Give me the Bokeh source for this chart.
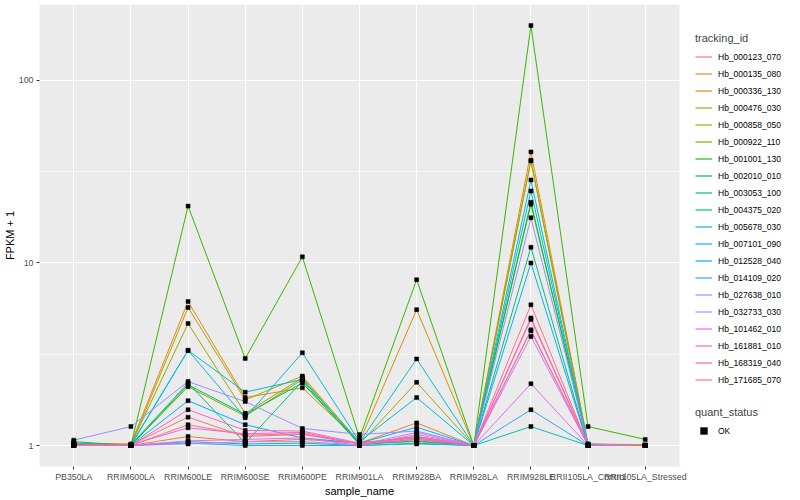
import math
from bokeh.plotting import figure
from bokeh.models import (Range1d, FactorRange, FixedTicker, NumeralTickFormatter,
                          Legend, LegendItem, ColumnDataSource)
from bokeh.layouts import row
from bokeh.embed import file_html
from bokeh.resources import INLINE

FONT = "Liberation Sans"

samples = ["PB350LA", "RRIM600LA", "RRIM600LE", "RRIM600SE", "RRIM600PE", "RRIM901LA",
           "RRIM928BA", "RRIM928LA", "RRIM928LE", "RRII105LA_Control", "RRII105LA_Stressed"]

genes = ["Hb_000123_070", "Hb_000135_080", "Hb_000336_130", "Hb_000476_030", "Hb_000858_050",
         "Hb_000922_110", "Hb_001001_130", "Hb_002010_010", "Hb_003053_100", "Hb_004375_020",
         "Hb_005678_030", "Hb_007101_090", "Hb_012528_040", "Hb_014109_020", "Hb_027638_010",
         "Hb_032733_030", "Hb_101462_010", "Hb_161881_010", "Hb_168319_040", "Hb_171685_070"]

colors = ["#F8766D", "#EA8331", "#D89000", "#C09B00", "#A3A500", "#7CAE00", "#39B600", "#00BB4E",
          "#00BF7D", "#00C1A3", "#00BFC4", "#00BAE0", "#00B0F6", "#35A2FF", "#9590FF", "#C77CFF",
          "#E76BF3", "#FA62DB", "#FF62BC", "#FF6C90"]

hb_000123_070 = [1.00, 1.01, 1.43, 1.12, 1.15, 1.02, 1.08, 1.00, 5.00, 1.01, 1.00]
hb_000135_080 = [1.02, 1.00, 1.12, 1.05, 1.08, 1.03, 1.33, 1.00, 4.25, 1.00, 1.00]
hb_000336_130 = [1.03, 1.02, 6.15, 1.83, 2.07, 1.05, 5.55, 1.00, 40.6, 1.02, 1.01]
hb_000476_030 = [1.01, 1.00, 5.70, 1.78, 2.40, 1.04, 1.10, 1.00, 36.2, 1.00, 1.00]
hb_000858_050 = [1.00, 1.01, 4.66, 1.50, 2.35, 1.02, 2.22, 1.00, 36.5, 1.01, 1.00]
hb_000922_110 = [1.02, 1.00, 2.10, 1.45, 2.30, 1.03, 1.05, 1.00, 21.0, 1.00, 1.00]
hb_001001_130 = [1.05, 1.00, 20.5, 3.00, 10.8, 1.10, 8.10, 1.00, 200.0, 1.27, 1.08]
hb_002010_010 = [1.01, 1.00, 2.15, 1.48, 2.20, 1.02, 1.12, 1.00, 21.5, 1.00, 1.00]
hb_003053_100 = [1.00, 1.01, 2.20, 1.03, 2.25, 1.01, 1.06, 1.00, 12.2, 1.00, 1.00]
hb_004375_020 = [1.00, 1.00, 1.05, 1.02, 1.03, 1.00, 1.02, 1.00, 1.27, 1.00, 1.00]
hb_005678_030 = [1.02, 1.01, 3.32, 1.96, 2.30, 1.04, 2.98, 1.00, 24.8, 1.01, 1.00]
hb_007101_090 = [1.03, 1.00, 3.32, 1.42, 3.22, 1.05, 1.83, 1.00, 28.5, 1.00, 1.00]
hb_012528_040 = [1.01, 1.00, 1.76, 1.30, 1.10, 1.03, 1.26, 1.00, 10.0, 1.00, 1.00]
hb_014109_020 = [1.00, 1.00, 1.03, 1.00, 1.00, 1.00, 1.03, 1.00, 1.57, 1.00, 1.00]
hb_027638_010 = [1.07, 1.27, 2.24, 1.74, 1.24, 1.15, 1.20, 1.00, 17.7, 1.02, 1.00]
hb_032733_030 = [1.00, 1.00, 1.02, 1.05, 1.05, 1.01, 1.18, 1.00, 3.96, 1.00, 1.00]
hb_101462_010 = [1.00, 1.00, 1.06, 1.08, 1.10, 1.00, 1.15, 1.00, 2.18, 1.00, 1.00]
hb_161881_010 = [1.00, 1.01, 1.25, 1.16, 1.18, 1.02, 1.12, 1.00, 4.30, 1.00, 1.00]
hb_168319_040 = [1.01, 1.00, 1.57, 1.21, 1.20, 1.03, 1.10, 1.00, 4.90, 1.00, 1.00]
hb_171685_070 = [1.00, 1.00, 1.30, 1.14, 1.16, 1.02, 1.08, 1.00, 5.90, 1.00, 1.00]

series = [hb_000123_070, hb_000135_080, hb_000336_130, hb_000476_030, hb_000858_050,
          hb_000922_110, hb_001001_130, hb_002010_010, hb_003053_100, hb_004375_020,
          hb_005678_030, hb_007101_090, hb_012528_040, hb_014109_020, hb_027638_010,
          hb_032733_030, hb_101462_010, hb_161881_010, hb_168319_040, hb_171685_070]

quant_status = "OK"

# y range: log10 data range expanded by 5% on each side (like ggplot)
allv = [v for s in series for v in s]
lo, hi = math.log10(min(allv)), math.log10(max(allv))
pad = 0.05 * (hi - lo)
ymin, ymax = 10 ** (lo - pad), 10 ** (hi + pad)

FW, FH, TOP = 640, 462, 4
p = figure(frame_width=FW, frame_height=FH, title=None,
           x_range=FactorRange(factors=samples, range_padding=0.1, range_padding_units="absolute"),
           y_range=Range1d(ymin, ymax), y_axis_type="log",
           output_backend="svg", toolbar_location=None,
           min_border_left=36, min_border_right=8, min_border_top=TOP, min_border_bottom=20)
p.background_fill_color = "#EBEBEB"
p.border_fill_color = "white"
p.outline_line_color = None

for vals, col in zip(series, colors):
    src = ColumnDataSource(dict(sample=samples, fpkm=vals))
    p.line(x="sample", y="fpkm", source=src, line_color=col, line_width=1)

pts_x = [s for vals in series for s in samples]
pts_y = [v for vals in series for v in vals]
p.scatter(x=pts_x, y=pts_y, marker="square", size=4, fill_color="black", line_color="black",
          line_width=0.5)

p.yaxis.ticker = FixedTicker(ticks=[1, 10, 100], minor_ticks=[10 ** 0.5, 10 ** 1.5])
p.yaxis.formatter = NumeralTickFormatter(format="0")
p.xgrid.grid_line_color = "white"
p.xgrid.grid_line_width = 1.1
p.ygrid.grid_line_color = "white"
p.ygrid.grid_line_width = 1.1
p.ygrid.minor_grid_line_color = "white"
p.ygrid.minor_grid_line_width = 0.6

for ax in (p.xaxis[0], p.yaxis[0]):
    ax.axis_line_color = None
    ax.major_tick_line_color = "#333333"
    ax.major_tick_out = 3
    ax.major_tick_in = 0
    ax.minor_tick_line_color = None
    ax.major_label_text_color = "#4D4D4D"
    ax.major_label_text_font = FONT
    ax.major_label_text_font_size = "8.8px"
    ax.major_label_standoff = 2
    ax.axis_label_text_font = FONT
    ax.axis_label_text_font_size = "11px"
    ax.axis_label_text_font_style = "normal"
    ax.axis_label_text_color = "black"
    ax.axis_label_standoff = 0
p.xaxis.axis_label = "sample_name"
p.yaxis.axis_label = "FPKM + 1"

# Legend panel (separate figure, frame aligned with the main one)
lg = figure(frame_width=96, frame_height=FH, title=None,
            x_range=Range1d(0, 1), y_range=Range1d(0, 1),
            x_axis_location=None, y_axis_location=None,
            output_backend="svg", toolbar_location=None,
            min_border_left=0, min_border_right=0, min_border_bottom=0, min_border_top=TOP)
lg.grid.visible = False
lg.outline_line_color = None
lg.background_fill_color = "white"
lg.border_fill_color = "white"

nan = float("nan")
key_renderers = [lg.line(x=[nan], y=[nan], line_color=col, line_width=1.2) for col in colors]
ok_key = lg.scatter(x=[nan], y=[nan], marker="square", size=4, fill_color="black",
                    line_color="black", line_width=0.5)

common = dict(padding=0, spacing=0, glyph_width=17, glyph_height=17, label_height=17,
              label_standoff=6, label_text_font=FONT, label_text_font_size="8.5px",
              label_text_color="black", title_text_font=FONT, title_text_font_size="11px",
              title_text_font_style="normal", title_standoff=4, border_line_color=None,
              background_fill_alpha=0, click_policy="none")
items = [LegendItem(label=g, renderers=[r]) for g, r in zip(genes, key_renderers)]
leg1 = Legend(items=items, location=(8, 78), title="tracking_id", **common)
leg2 = Legend(items=[LegendItem(label=quant_status, renderers=[ok_key])], location=(8, 27),
              title="quant_status", **common)
lg.add_layout(leg1)
lg.add_layout(leg2)

layout = row(p, lg)
open("out.html", "w").write(file_html(layout, INLINE))
